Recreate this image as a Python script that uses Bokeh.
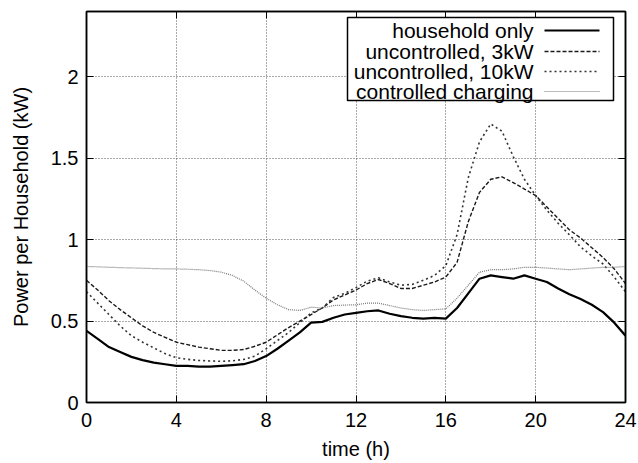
from bokeh.plotting import figure
from bokeh.models import (Range1d, LinearAxis, FixedTicker, BoxAnnotation,
                          Label, Arrow)
from bokeh.embed import file_html
from bokeh.resources import INLINE

# Hour of day, half-hour resolution
hours = [i * 0.5 for i in range(49)]

household_only = [
    0.44, 0.39, 0.34, 0.31, 0.28, 0.26, 0.245, 0.235, 0.225, 0.225,
    0.22, 0.22, 0.225, 0.23, 0.235, 0.255, 0.285, 0.33, 0.38, 0.43,
    0.49, 0.495, 0.52, 0.54, 0.55, 0.56, 0.565, 0.545, 0.53, 0.52,
    0.515, 0.52, 0.515, 0.58, 0.67, 0.76, 0.78, 0.77, 0.76, 0.78,
    0.76, 0.74, 0.70, 0.665, 0.635, 0.60, 0.555, 0.49, 0.41,
]
uncontrolled_3kw = [
    0.75, 0.69, 0.625, 0.57, 0.52, 0.47, 0.43, 0.40, 0.37, 0.355,
    0.34, 0.33, 0.32, 0.32, 0.325, 0.345, 0.37, 0.415, 0.46, 0.50,
    0.54, 0.58, 0.63, 0.66, 0.69, 0.73, 0.755, 0.73, 0.70, 0.70,
    0.72, 0.74, 0.77, 0.86, 1.11, 1.29, 1.37, 1.385, 1.35, 1.31,
    1.27, 1.20, 1.13, 1.06, 1.01, 0.95, 0.89, 0.82, 0.73,
]
uncontrolled_10kw = [
    0.68, 0.61, 0.54, 0.47, 0.41, 0.37, 0.335, 0.30, 0.275, 0.265,
    0.258, 0.255, 0.253, 0.256, 0.264, 0.285, 0.33, 0.38, 0.43, 0.49,
    0.55, 0.58, 0.645, 0.67, 0.705, 0.745, 0.765, 0.74, 0.72, 0.725,
    0.75, 0.78, 0.84, 1.03, 1.38, 1.60, 1.71, 1.665, 1.51, 1.37,
    1.27, 1.18, 1.10, 1.03, 0.955, 0.90, 0.85, 0.77, 0.68,
]
controlled_charging = [
    0.835, 0.833, 0.83, 0.828, 0.826, 0.824, 0.822, 0.82, 0.82, 0.818,
    0.815, 0.81, 0.80, 0.78, 0.745, 0.69, 0.64, 0.60, 0.57, 0.565,
    0.585, 0.58, 0.595, 0.598, 0.60, 0.61, 0.61, 0.595, 0.58, 0.57,
    0.565, 0.57, 0.575, 0.64, 0.72, 0.80, 0.815, 0.815, 0.82, 0.83,
    0.83, 0.825, 0.82, 0.815, 0.82, 0.825, 0.83, 0.83, 0.835,
]

x_ticks = [0, 4, 8, 12, 16, 20, 24]
y_ticks = [0, 0.5, 1, 1.5, 2]

series_names = ["household only", "uncontrolled, 3kW",
                "uncontrolled, 10kW", "controlled charging"]

FONT = "Liberation Sans"
FS = "20px"
KEY_FS = "21px"

styles = [
    dict(line_color="black", line_width=2.2, line_dash="solid"),
    dict(line_color="#1a1a1a", line_width=1.4, line_dash="4 2"),
    dict(line_color="#333333", line_width=1.6, line_dash="2 3"),
    dict(line_color="#777777", line_width=1.2, line_dash="1 1"),
]

p = figure(width=638, height=463, output_backend="svg", toolbar_location=None,
           x_range=Range1d(0, 24), y_range=Range1d(0, 2.4),
           min_border_left=86, min_border_right=13,
           min_border_top=11, min_border_bottom=61,
           background_fill_color="white", border_fill_color="white")
p.outline_line_color = "black"
p.outline_line_width = 1.5

# axes: inward ticks, mirrored on top and right
for ax in (p.xaxis[0], p.yaxis[0]):
    ax.major_tick_in = 7
    ax.major_tick_out = 0
    ax.minor_tick_line_color = None
    ax.axis_line_color = "black"
    ax.axis_line_width = 1.5
    ax.major_label_text_font = FONT
    ax.major_label_text_font_size = FS
    ax.major_label_text_color = "black"
    ax.axis_label_text_font = FONT
    ax.axis_label_text_font_size = FS
    ax.axis_label_text_font_style = "normal"
    ax.axis_label_text_color = "black"

p.xaxis[0].ticker = FixedTicker(ticks=x_ticks)
p.yaxis[0].ticker = FixedTicker(ticks=y_ticks)
p.xaxis[0].major_label_overrides = {t: str(t) for t in x_ticks}
p.yaxis[0].major_label_overrides = {0: "0", 0.5: "0.5", 1: "1", 1.5: "1.5", 2: "2"}
p.xaxis[0].axis_label = "time (h)"
p.yaxis[0].axis_label = "Power per Household (kW)"
p.xaxis[0].major_label_standoff = 10
p.yaxis[0].major_label_standoff = 8
p.xaxis[0].axis_label_standoff = 8
p.yaxis[0].axis_label_standoff = 16

for loc, ticks in (("above", x_ticks), ("right", y_ticks)):
    ax = LinearAxis(ticker=FixedTicker(ticks=ticks), major_label_text_color=None,
                    major_tick_in=7, major_tick_out=0, minor_tick_line_color=None,
                    axis_line_color="black", axis_line_width=1.5)
    p.add_layout(ax, loc)

p.xgrid.ticker = FixedTicker(ticks=x_ticks)
p.ygrid.ticker = FixedTicker(ticks=y_ticks)
for g in (p.xgrid[0], p.ygrid[0]):
    g.grid_line_color = "#555555"
    g.grid_line_dash = "1 2"
    g.grid_line_width = 1

series = [household_only, uncontrolled_3kw, uncontrolled_10kw, controlled_charging]
for ys, st in zip(series, styles):
    p.line(hours, ys, **st)

# key box (screen units measured from the frame's lower-left corner),
# text right-aligned with line samples to its right
p.add_layout(BoxAnnotation(left=261, right=527, top=385, bottom=302,
                           left_units="screen", right_units="screen",
                           top_units="screen", bottom_units="screen",
                           fill_color="white", fill_alpha=1.0,
                           line_color="black", line_alpha=1.0, line_width=1.5))
row_y = [372, 351, 331, 311]
for name, st, yy in zip(series_names, styles, row_y):
    p.add_layout(Label(x=447, y=yy, x_units="screen", y_units="screen",
                       text=name, text_align="right", text_baseline="middle",
                       text_font=FONT, text_font_size=KEY_FS, text_color="black"))
    p.add_layout(Arrow(end=None, x_start=458, y_start=yy, x_end=513, y_end=yy,
                       start_units="screen", end_units="screen", **st))

open("out.html", "w").write(file_html(p, INLINE))
